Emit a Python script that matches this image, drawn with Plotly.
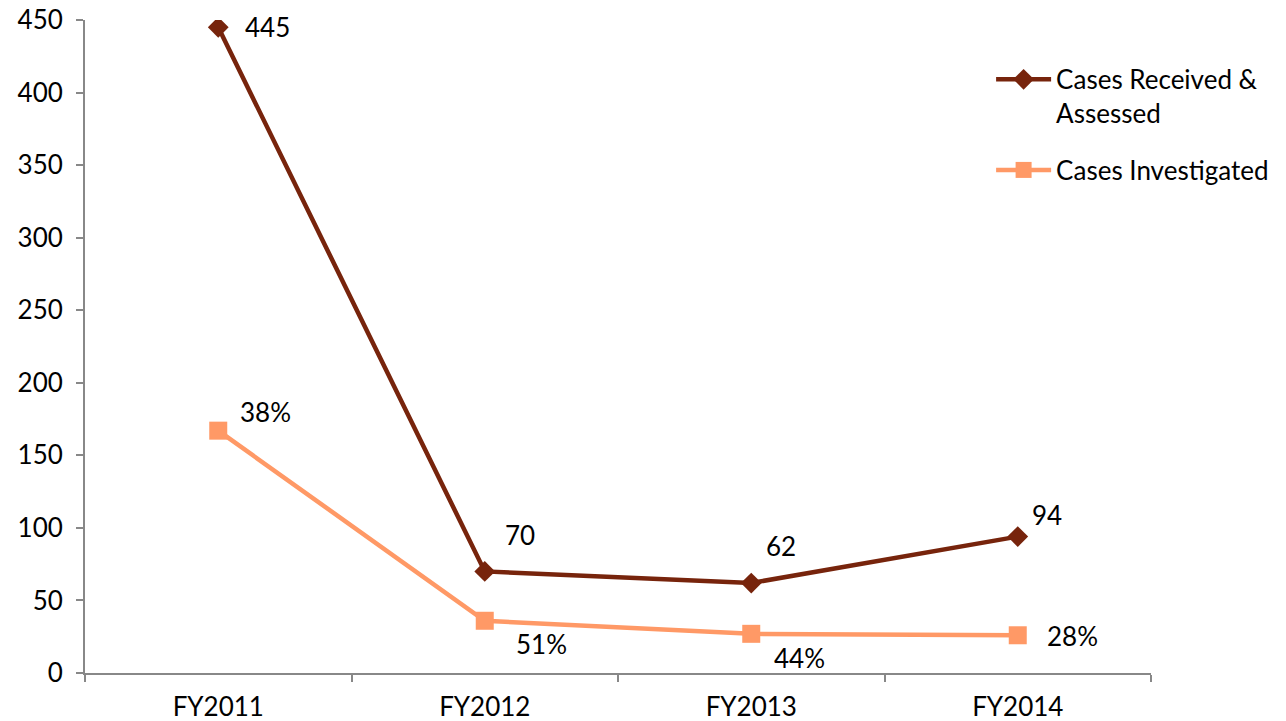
import plotly.graph_objects as go

# Fiscal years and case counts
years = ["FY2011", "FY2012", "FY2013", "FY2014"]
received = [445, 70, 62, 94]
investigated = [167, 36, 27, 26]
investigated_pct = ["38%", "51%", "44%", "28%"]

# label offsets (px) for each point
recv_shift = [(49, 0), (35, 36), (30, 37), (29, 22)]
inv_shift = [(47, 19), (57, -23), (48, -24), (55, -1)]

DARK = "#77240C"
LIGHT = "#FF9966"
FONT = "Lato"

fig = go.Figure()
fig.add_trace(go.Scatter(
    x=years, y=received, mode="lines+markers",
    name="Cases Received &<br>Assessed", legendgroup="a",
    line=dict(color=DARK, width=4.5),
    marker=dict(symbol="diamond", size=16, color=DARK),
))
fig.add_trace(go.Scatter(
    x=years, y=investigated, mode="lines+markers",
    name="Cases Investigated", legendgroup="b",
    line=dict(color=LIGHT, width=4.5),
    marker=dict(symbol="square", size=18, color=LIGHT),
))

for yr, v, (dx, dy) in zip(years, received, recv_shift):
    fig.add_annotation(x=yr, y=v, text=str(v), showarrow=False,
                       xshift=dx, yshift=dy,
                       font=dict(family=FONT, size=26, color="#000"))
for yr, v, t, (dx, dy) in zip(years, investigated, investigated_pct, inv_shift):
    fig.add_annotation(x=yr, y=v, text=t, showarrow=False,
                       xshift=dx, yshift=dy,
                       font=dict(family=FONT, size=26, color="#000"))

fig.update_layout(
    width=1286, height=721,
    margin=dict(l=85, r=133, t=20, b=48),
    paper_bgcolor="white", plot_bgcolor="white",
    font=dict(family=FONT, size=26, color="#000"),
    showlegend=True,
    legend=dict(x=0.85, y=0.945, xanchor="left", yanchor="top",
                font=dict(family=FONT, size=26, color="#000"),
                itemwidth=55, tracegroupgap=20, valign="top",
                traceorder="grouped", bgcolor="rgba(0,0,0,0)"),
    xaxis=dict(
        type="category", range=[-0.5, 3.5], automargin=False,
        showline=True, linecolor="#888", linewidth=2,
        ticks="outside", ticklen=7, tickcolor="#888", tickwidth=2,
        tickson="boundaries", showgrid=False, zeroline=False,
        ticklabelstandoff=10,
        tickfont=dict(family=FONT, size=26),
    ),
    yaxis=dict(
        range=[0, 450], dtick=50, automargin=False,
        showline=True, linecolor="#888", linewidth=2,
        ticks="outside", ticklen=7, tickcolor="#888", tickwidth=2,
        showgrid=False, zeroline=False,
        ticklabelstandoff=8,
        tickfont=dict(family=FONT, size=26),
    ),
)

fig.write_html("out.html")
